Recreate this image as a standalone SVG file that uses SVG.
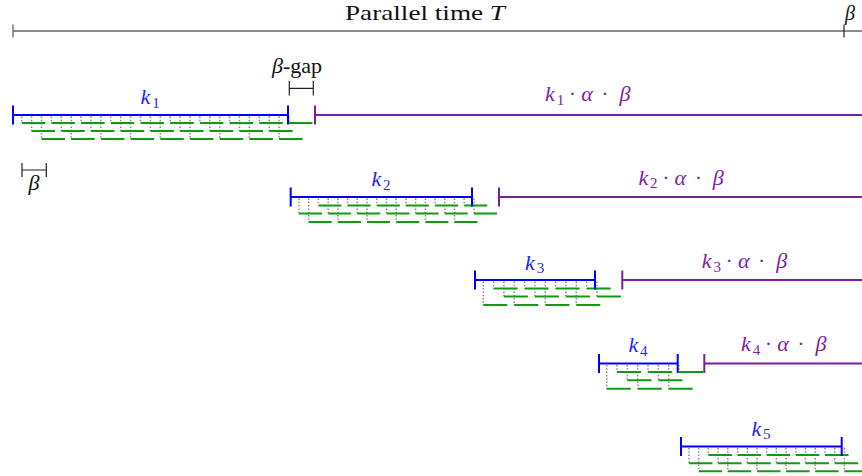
<svg xmlns="http://www.w3.org/2000/svg" width="862" height="476" viewBox="0 0 862 476">
<style>
.t{font-family:"Liberation Serif","DejaVu Serif",serif;font-size:22px}
.i{font-style:italic}
.s{font-size:15px}
.bl{fill:#1f1fff}
.pu{fill:#7b1fa2}
.blk{fill:#111}
.bar{stroke:#0000ff;stroke-width:2;fill:none}
.pl{stroke:#7b1fa2;stroke-width:2;fill:none}
.gr{stroke:#139a13;stroke-width:2;fill:none}
.dt{stroke:#8a8a8a;stroke-width:1.5;stroke-dasharray:1.5 1.8;fill:none}
.ax{stroke:#666;stroke-width:1.3;fill:none}
.br{stroke:#222;stroke-width:1.2;fill:none}
</style>
<rect width="862" height="476" fill="#fff"/>

<g id="axis">
<path class="ax" d="M13 31H862M13 24.5V37.5"/>
<path class="br" d="M844 24.5V37.5"/>
<text class="t blk" x="345" y="20" textLength="160" lengthAdjust="spacingAndGlyphs">Parallel time <tspan class="i">T</tspan></text>
<text class="t blk i" x="845" y="19.5" style="font-size:20px">β</text>
</g>

<g id="beta-gap">
<path class="br" d="M289.3 88.3H313.3M289.3 81V95.5M313.3 81V95.5"/>
<text class="t blk" x="272" y="72.5"><tspan class="i">β</tspan>-gap</text>
</g>

<g id="beta">
<path class="br" d="M22 170H46.3M22 163V177M46.3 163V177"/>
<text class="t blk i" x="34" y="190" text-anchor="middle">β</text>
</g>

<g id="row1">
<path class="dt" d="M21.7 116.5V123M51.4 116.5V123M81.1 116.5V123M110.8 116.5V123M140.5 116.5V123M170.2 116.5V123M199.9 116.5V123M229.6 116.5V123M259.3 116.5V123M289 116.5V123
M31.6 116.5V131M61.3 116.5V131M91 116.5V131M120.7 116.5V131M150.4 116.5V131M180.1 116.5V131M209.8 116.5V131M239.5 116.5V131M269.2 116.5V131
M41.5 116.5V139M71.2 116.5V139M100.9 116.5V139M130.6 116.5V139M160.3 116.5V139M190 116.5V139M219.7 116.5V139M249.4 116.5V139M279.1 116.5V139"/>
<path class="gr" d="M21.7 123h23.5M51.4 123h23.5M81.1 123h23.5M110.8 123h23.5M140.5 123h23.5M170.2 123h23.5M199.9 123h23.5M229.6 123h23.5M259.3 123h23.5M289 123h23.5
M31.6 131h23.5M61.3 131h23.5M91 131h23.5M120.7 131h23.5M150.4 131h23.5M180.1 131h23.5M209.8 131h23.5M239.5 131h23.5M269.2 131h23.5
M41.5 139h23.5M71.2 139h23.5M100.9 139h23.5M130.6 139h23.5M160.3 139h23.5M190 139h23.5M219.7 139h23.5M249.4 139h23.5M279.1 139h23.5"/>
<path class="bar" d="M13 115H288M13 105.5V124.5M288 105.5V124.5"/>
<path class="pl" d="M315 115H862M315 105.5V124.5"/>
<text class="t bl" y="104" text-anchor="middle"><tspan class="i" x="145.5">k</tspan><tspan class="s" x="156" dy="3.5">1</tspan></text>
<text class="t pu" y="101" text-anchor="middle"><tspan class="i" x="550">k</tspan><tspan class="s" x="560.5" dy="3.5">1</tspan><tspan x="572.5" dy="-3.5">·</tspan><tspan class="i" x="587">α</tspan><tspan x="605">·</tspan><tspan class="i" x="625">β</tspan></text>
</g>

<g id="row2">
<path class="dt" d="M299 198.5V213.5M328.2 198.5V213.5M357.3 198.5V213.5M386.5 198.5V213.5M415.6 198.5V213.5M444.8 198.5V213.5M474 198.5V213.5
M308.7 198.5V222M337.9 198.5V222M367 198.5V222M396.2 198.5V222M425.4 198.5V222M454.5 198.5V222
M318.4 198.5V205.5M347.6 198.5V205.5M376.8 198.5V205.5M405.9 198.5V205.5M435.1 198.5V205.5M464.2 198.5V205.5"/>
<path class="gr" d="M299 213.5h23M328.2 213.5h23M357.3 213.5h23M386.5 213.5h23M415.6 213.5h23M444.8 213.5h23M474 213.5h23
M308.7 222h23M337.9 222h23M367 222h23M396.2 222h23M425.4 222h23M454.5 222h23
M318.4 205.5h23M347.6 205.5h23M376.8 205.5h23M405.9 205.5h23M435.1 205.5h23M464.2 205.5h23"/>
<path class="bar" d="M290.7 197H472M290.7 187.5V206.5M472 187.5V206.5"/>
<path class="pl" d="M499 197H862M499 187.5V206.5"/>
<text class="t bl" y="186" text-anchor="middle"><tspan class="i" x="376.3">k</tspan><tspan class="s" x="386.8" dy="3.5">2</tspan></text>
<text class="t pu" y="184.5" text-anchor="middle"><tspan class="i" x="643.3">k</tspan><tspan class="s" x="653.8" dy="3.5">2</tspan><tspan x="665.8" dy="-3.5">·</tspan><tspan class="i" x="680.3">α</tspan><tspan x="698.3">·</tspan><tspan class="i" x="718.3">β</tspan></text>
</g>

<g id="row3">
<path class="dt" d="M483.3 281.5V305M514.3 281.5V305M545.3 281.5V305M576.3 281.5V305
M493.6 281.5V288.5M524.6 281.5V288.5M555.6 281.5V288.5M586.6 281.5V288.5
M503.9 281.5V296.5M534.9 281.5V296.5M565.9 281.5V296.5M596.9 281.5V296.5"/>
<path class="gr" d="M483.3 305h24M514.3 305h24M545.3 305h24M576.3 305h24
M493.6 288.5h24M524.6 288.5h24M555.6 288.5h24M586.6 288.5h24
M503.9 296.5h24M534.9 296.5h24M565.9 296.5h24M596.9 296.5h24"/>
<path class="bar" d="M475 280H595M475 270.5V289.5M595 270.5V289.5"/>
<path class="pl" d="M622.3 280H862M622.3 270.5V289.5"/>
<text class="t bl" y="269.5" text-anchor="middle"><tspan class="i" x="530">k</tspan><tspan class="s" x="540.5" dy="3.5">3</tspan></text>
<text class="t pu" y="268" text-anchor="middle"><tspan class="i" x="706.7">k</tspan><tspan class="s" x="717.2" dy="3.5">3</tspan><tspan x="729.2" dy="-3.5">·</tspan><tspan class="i" x="743.7">α</tspan><tspan x="761.7">·</tspan><tspan class="i" x="781.7">β</tspan></text>
</g>

<g id="row4">
<path class="dt" d="M606.7 365V388.7M637.7 365V388.7M668.7 365V388.7
M617 365V372M648 365V372M679 365V372
M627.4 365V380.3M658.4 365V380.3"/>
<path class="gr" d="M606.7 388.7h24M637.7 388.7h24M668.7 388.7h24
M617 372h24M648 372h24M679 372h24
M627.4 380.3h24M658.4 380.3h24"/>
<path class="bar" d="M599 363.5H677.7M599 354V373M677.7 354V373"/>
<path class="pl" d="M704.3 363.5H862M704.3 354V373"/>
<text class="t bl" y="352" text-anchor="middle"><tspan class="i" x="633.3">k</tspan><tspan class="s" x="643.8" dy="3.5">4</tspan></text>
<text class="t pu" y="351" text-anchor="middle"><tspan class="i" x="746">k</tspan><tspan class="s" x="756.5" dy="3.5">4</tspan><tspan x="768.5" dy="-3.5">·</tspan><tspan class="i" x="783">α</tspan><tspan x="801">·</tspan><tspan class="i" x="821">β</tspan></text>
</g>

<g id="row5">
<path class="dt" d="M689 448V463.3M718.1 448V463.3M747.3 448V463.3M776.4 448V463.3M805.5 448V463.3M834.7 448V463.3
M698.7 448V471.3M727.8 448V471.3M757 448V471.3M786.1 448V471.3M815.2 448V471.3M844.4 448V471.3
M708.4 448V455M737.6 448V455M766.7 448V455M795.8 448V455M825 448V455"/>
<path class="gr" d="M689 463.3h23.5M718.1 463.3h23.5M747.3 463.3h23.5M776.4 463.3h23.5M805.5 463.3h23.5M834.7 463.3h23.5
M698.7 471.3h23.5M727.8 471.3h23.5M757 471.3h23.5M786.1 471.3h23.5M815.2 471.3h23.5M844.4 471.3h23.5
M708.4 455h23.5M737.6 455h23.5M766.7 455h23.5M795.8 455h23.5M825 455h23.5"/>
<path class="bar" d="M681 446.5H841.7M681 437V456M841.7 437V456"/>
<text class="t bl" y="435.5" text-anchor="middle"><tspan class="i" x="756.3">k</tspan><tspan class="s" x="766.8" dy="3.5">5</tspan></text>
</g>
</svg>
